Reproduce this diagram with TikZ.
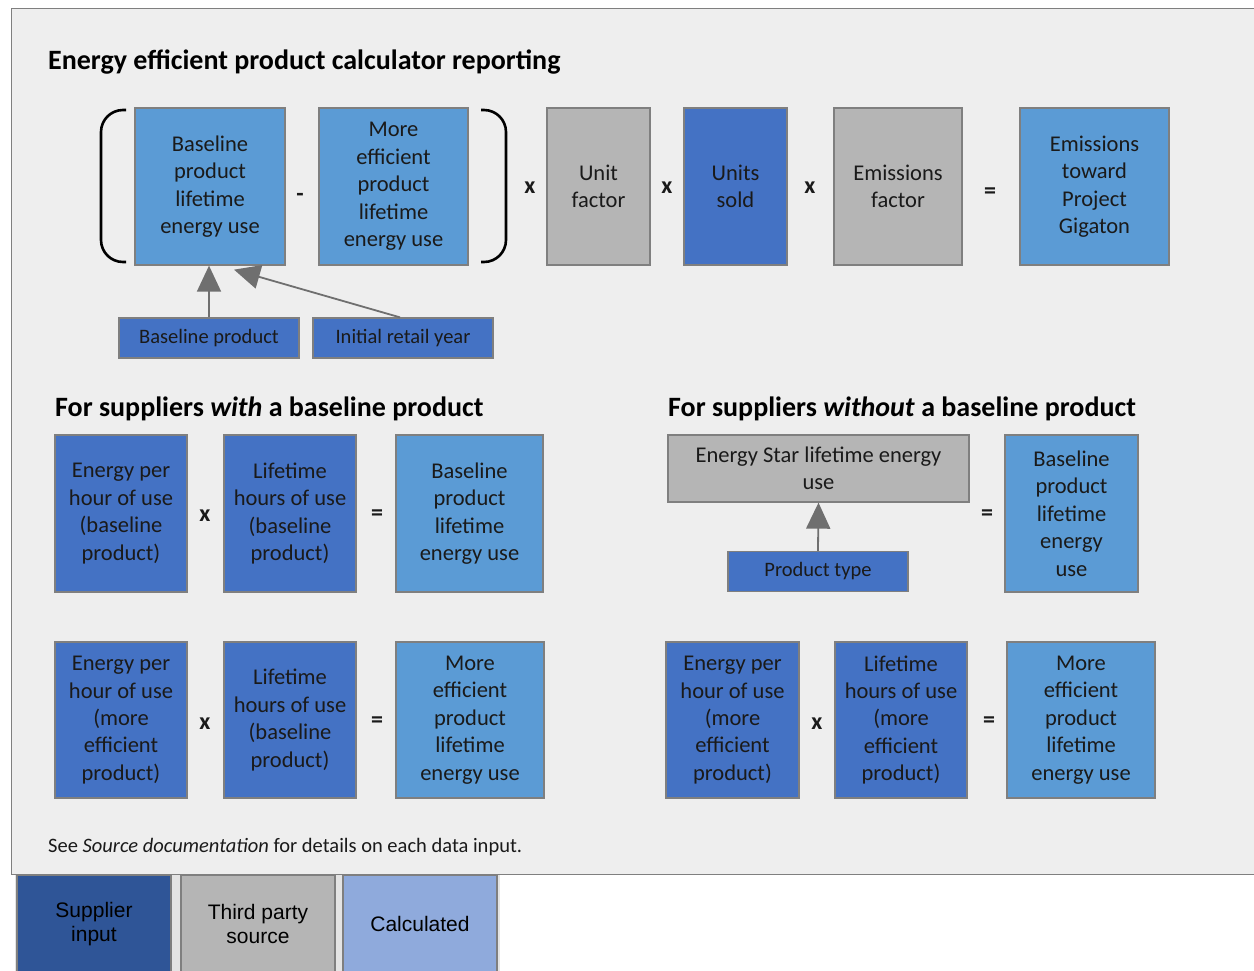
\documentclass[tikz,border=0pt]{standalone}
\usepackage{fontspec}
\setmainfont{Carlito}
\newfontfamily\legendfont{Liberation Sans}
\usetikzlibrary{arrows.meta, positioning, calc}
\definecolor{panelgray}{HTML}{EEEEEE}
\definecolor{edgegray}{HTML}{7F7F7F}
\definecolor{calcblue}{HTML}{5B9BD5}
\definecolor{inputblue}{HTML}{4472C4}
\definecolor{thirdgray}{HTML}{B5B5B5}
\definecolor{legsupplier}{HTML}{2F5597}
\definecolor{legcalc}{HTML}{8FAADC}
\definecolor{legstrip}{HTML}{E4E4E4}
\definecolor{arrowgray}{HTML}{6F6F6F}
\definecolor{textdark}{HTML}{1A1A1A}

\begin{document}
\begin{tikzpicture}[
    x=1pt, y=-1pt,
    box/.style={draw=edgegray, line width=1.3pt, align=center, inner sep=1pt, text=textdark,
      font=\fontsize{22.5}{27.4}\selectfont, minimum height=157pt},
    calcbox/.style={box, fill=calcblue},
    inbox/.style={box, fill=inputblue},
    thirdbox/.style={box, fill=thirdgray},
    smallbox/.style={inbox, minimum height=40pt, minimum width=180pt, font=\fontsize{20.5}{22}\selectfont},
    oper/.style={font=\bfseries\fontsize{24}{24}\selectfont, text=textdark, inner sep=0pt},
    heading/.style={anchor=west, font=\bfseries\fontsize{28}{30}\selectfont, text=black, inner sep=0pt},
    legbox/.style={draw=edgegray, line width=1.3pt, align=center, text=black, minimum width=154pt,
      minimum height=98pt, font=\legendfont\fontsize{21}{24.5}\selectfont},
    arrow/.style={-{Triangle[length=26pt, width=24pt]}, draw=arrowgray, line width=1.8pt},
]
    \useasboundingbox (0,0) rectangle (1254,970);
    \clip (0,0) rectangle (1254,970);

    % Panel and legend strip
    \draw[fill=panelgray, draw=edgegray, line width=1pt] (11,8) rectangle (1270,874);
    \fill[legstrip] (15,875) rectangle (500,975);

    % Title
    \node[heading] (title) at (48,62) {Energy efficient product calculator reporting};

    % Top equation
    \node[calcbox, minimum width=150pt] (base) at (210,186.5) {Baseline\\product\\lifetime\\energy use};
    \node[calcbox, minimum width=149pt] (more) at (393.5,186.5) {More\\efficient\\product\\lifetime\\energy use};
    \node[thirdbox, minimum width=103pt] (unit) at (598.5,186.5) {Unit\\factor};
    \node[inbox, minimum width=103pt] (sold) at (735.5,186.5) {Units\\sold};
    \node[thirdbox, minimum width=128pt] (emis) at (898,186.5) {Emissions\\factor};
    \node[calcbox, minimum width=149pt] (gig) at (1094.5,186.5) {Emissions\\toward\\Project\\Gigaton};

    \node[oper] (minus) at (300,197) {-};
    \node[oper] (times1) at (530,188) {x};
    \node[oper] (times2) at (667,188) {x};
    \node[oper] (times3) at (810,188) {x};
    \node[oper] (eq1) at (990,193) {=};

    % Brackets
    \draw[line width=2.6pt, rounded corners=22pt] (126,110) -- (101,110) -- (101,262) -- (126,262);
    \draw[line width=2.6pt, rounded corners=22pt] (481,110) -- (506,110) -- (506,262) -- (481,262);

    % Inputs to baseline
    \node[smallbox] (bprod) at (209,338) {Baseline product};
    \node[smallbox] (iret) at (403,338) {Initial retail year};
    \draw[arrow] (bprod.north) -- (bprod.north |- base.south);
    \draw[arrow] ([xshift=-3pt]iret.north) -- ([xshift=24pt,yshift=-4pt]base.south);

    % With a baseline product
    \node[heading] (withhead) at (55,409) {For suppliers \textit{with} a baseline product};
    \node[inbox, minimum width=132pt] (ewa) at (121,513.5) {Energy per\\hour of use\\(baseline\\product)};
    \node[inbox, minimum width=132pt] (lwa) at (290,513.5) {Lifetime\\hours of use\\(baseline\\product)};
    \node[calcbox, minimum width=147pt] (bla) at (469.5,513.5) {Baseline\\product\\lifetime\\energy use};
    \node[oper] (times4) at (205,516) {x};
    \node[oper] (eq2) at (377,515) {=};

    \node[inbox, minimum width=132pt, minimum height=156pt] (ewb) at (121,720) {Energy per\\hour of use\\(more\\efficient\\product)};
    \node[inbox, minimum width=132pt, minimum height=156pt] (lwb) at (290,720) {Lifetime\\hours of use\\(baseline\\product)};
    \node[calcbox, minimum width=148pt, minimum height=156pt] (meb) at (470,720) {More\\efficient\\product\\lifetime\\energy use};
    \node[oper] (times5) at (205,724) {x};
    \node[oper] (eq3) at (377,722) {=};

    % Without a baseline product
    \node[heading] (withouthead) at (668,409) {For suppliers \textit{without} a baseline product};
    \node[thirdbox, minimum width=301pt, minimum height=67pt] (star) at (818.5,468.5) {Energy Star lifetime energy\\use};
    \node[smallbox] (ptype) at (818,571.5) {Product type};
    \draw[arrow] (ptype.north) -- (star.south);
    \node[calcbox, minimum width=133pt] (bout) at (1071.5,513.5) {Baseline\\product\\lifetime\\energy\\use};
    \node[oper] (eq4) at (987,515) {=};

    \node[inbox, minimum width=133pt, minimum height=156pt] (ewc) at (732.5,720) {Energy per\\hour of use\\(more\\efficient\\product)};
    \node[inbox, minimum width=132pt, minimum height=156pt] (lwc) at (901,720) {Lifetime\\hours of use\\(more\\efficient\\product)};
    \node[calcbox, minimum width=148pt, minimum height=156pt] (mec) at (1081,720) {More\\efficient\\product\\lifetime\\energy use};
    \node[oper] (times6) at (817,724) {x};
    \node[oper] (eq5) at (989,722) {=};

    % Footnote
    \node[anchor=west, inner sep=0pt, font=\fontsize{20.5}{22}\selectfont, text=textdark] (note) at (48,847)
      {See \textit{Source documentation} for details on each data input.};

    % Legend
    \node[legbox, fill=legsupplier] (legsup) at (94,924) {Supplier\\input};
    \node[legbox, fill=thirdgray] (legthird) at (258,924) {Third party\\source};
    \node[legbox, fill=legcalc] (legcalc) at (420,924) {Calculated};
\end{tikzpicture}
\end{document}
